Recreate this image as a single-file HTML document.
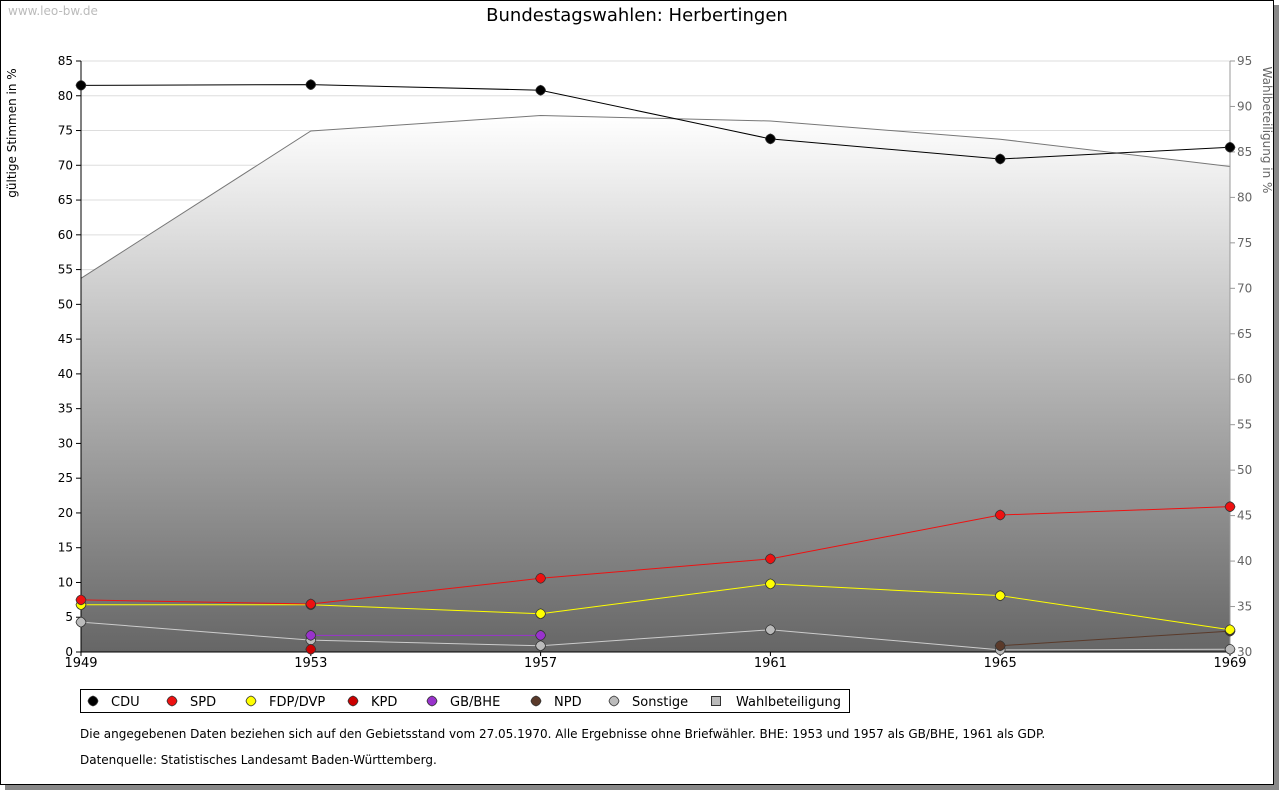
<!DOCTYPE html>
<html><head><meta charset="utf-8"><style>
body{margin:0;background:#fff;font-family:"DejaVu Sans","Liberation Sans",sans-serif;}
svg text{font-family:"DejaVu Sans","Liberation Sans",sans-serif;}
</style></head><body>
<svg id="chart" width="1280" height="791" xmlns="http://www.w3.org/2000/svg">
<defs><linearGradient id="g" x1="0" y1="0" x2="0" y2="1"><stop offset="0" stop-color="#ffffff"/><stop offset="1" stop-color="#666666"/></linearGradient></defs>
<rect x="5" y="5" width="1274" height="785" fill="#888"/>
<rect x="0.5" y="0.5" width="1273" height="784" fill="#fff" stroke="#000"/>
<text x="8" y="15" font-size="12" fill="#bbb">www.leo-bw.de</text>
<text x="637" y="21" font-size="18" text-anchor="middle">Bundestagswahlen: Herbertingen</text>
<text transform="translate(16,133) rotate(-90)" font-size="12" text-anchor="middle">gültige Stimmen in %</text>
<text transform="translate(1263,130) rotate(90)" font-size="12" text-anchor="middle" fill="#666">Wahlbeteiligung in %</text>
<g id="plot"></g>
<g id="legend"></g>
<text x="80" y="738" font-size="12">Die angegebenen Daten beziehen sich auf den Gebietsstand vom 27.05.1970. Alle Ergebnisse ohne Briefwähler. BHE: 1953 und 1957 als GB/BHE, 1961 als GDP.</text>
<text x="80" y="764" font-size="12">Datenquelle: Statistisches Landesamt Baden-Württemberg.</text>
</svg>
<script>
const years=["1949","1953","1957","1961","1965","1969"];
const cdu=[81.5,81.6,80.8,73.8,70.9,72.6];
const spd=[7.5,6.9,10.6,13.4,19.7,20.9];
const fdp=[6.8,6.8,5.5,9.8,8.1,3.2];
const kpd=[null,0.4,null,null,null,null];
const bhe=[null,2.4,2.4,null,null,null];
const npd=[null,null,null,null,0.9,3.0];
const sonst=[4.3,1.7,0.9,3.2,0.3,0.4];
const turnout=[71.1,87.3,89.0,88.4,86.4,83.4];
const yTicks=[0,5,10,15,20,25,30,35,40,45,50,55,60,65,70,75,80,85];
const y2Ticks=[30,35,40,45,50,55,60,65,70,75,80,85,90,95];
const NS="http://www.w3.org/2000/svg";
const X0=81,X1=1230,Y0=652,Y1=61;
const xs=i=>X0+i*(X1-X0)/(years.length-1);
const ys=v=>Y0-v*(Y0-Y1)/85;
const ys2=v=>Y0-(v-30)*(Y0-Y1)/65;
const plot=document.getElementById('plot');
function mk(t,a,p){const e=document.createElementNS(NS,t);for(const k in a)e.setAttribute(k,a[k]);(p||plot).appendChild(e);return e;}
yTicks.forEach(v=>{if(v>0){const l=mk('line',{x1:X0,x2:X1,y1:ys(v),y2:ys(v),stroke:'#ddd'});

}});
let d='M'+X0+','+Y0;turnout.forEach((v,i)=>d+=' L'+xs(i)+','+ys2(v));d+=' L'+X1+','+Y0+' Z';
const area=mk('path',{d:d,fill:'url(#g)'});


const tl=mk('polyline',{points:turnout.map((v,i)=>xs(i)+','+ys2(v)).join(' '),fill:'none',stroke:'#777'});


mk('line',{x1:X0,x2:X0,y1:Y1,y2:Y0,stroke:'#000'});
mk('line',{x1:X0,x2:X1,y1:Y0,y2:Y0,stroke:'#000'});
mk('line',{x1:X1,x2:X1,y1:Y1,y2:Y0,stroke:'#999'});
yTicks.forEach(v=>{mk('line',{x1:X0-5,x2:X0,y1:ys(v),y2:ys(v),stroke:'#000'});
const t=mk('text',{x:X0-8,y:ys(v)+4,'font-size':12,'text-anchor':'end'});t.textContent=v;

});
y2Ticks.forEach(v=>{mk('line',{x1:X1,x2:X1+5,y1:ys2(v),y2:ys2(v),stroke:'#999'});
const t=mk('text',{x:X1+7,y:ys2(v)+4,'font-size':12,fill:'#666'});t.textContent=v;

});
years.forEach((y,i)=>{mk('line',{x1:xs(i),x2:xs(i),y1:Y0,y2:Y0+4,stroke:'#000'});
const t=mk('text',{x:xs(i),y:Y0+15,'font-size':13,'text-anchor':'middle'});t.textContent=y;

});
function marker(cx,cy,c,p){return mk('path',{d:`M${cx},${cy-5} Q${cx+4},${cy-4} ${cx+5},${cy} Q${cx+4},${cy+4} ${cx},${cy+5} Q${cx-4},${cy+4} ${cx-5},${cy} Q${cx-4},${cy-4} ${cx},${cy-5} Z`,fill:c,stroke:'#333','stroke-width':0.8},p);}
function series(arr,c,lc,name){
 let seg=[];const segs=[];arr.forEach((v,i)=>{if(v==null){if(seg.length)segs.push(seg);seg=[];}else seg.push([xs(i),ys(v)]);});if(seg.length)segs.push(seg);
 segs.forEach(s=>{if(s.length>1){const l=mk('polyline',{points:s.map(p=>p.join(',')).join(' '),fill:'none',stroke:lc});
 
 }});
 arr.forEach((v,i)=>{if(v!=null){const m=marker(xs(i),ys(v),c);
 
 }});
}
series(sonst,'#bbb','#ccc','sonstige');
series(npd,'#5a3a2a','#5a3a2a','npd');
series(bhe,'#9933cc','#9933cc','gb-bhe');
series(kpd,'#cc0000','#cc0000','kpd');
series(fdp,'#ffff00','#ffff00','fdp');
series(spd,'#ee1111','#ee1111','spd');
series(cdu,'#000','#000','cdu');
const lg=document.getElementById('legend');
const lr=mk('rect',{x:80.5,y:689.5,width:769,height:23,fill:'#fff',stroke:'#000'},lg);


const items=[['CDU','#000',93],['SPD','#ee1111',172],['FDP/DVP','#ffff00',251],['KPD','#cc0000',353],['GB/BHE','#9933cc',432],['NPD','#5a3a2a',536],['Sonstige','#bbb',614]];
items.forEach(([n,c,x])=>{const m=marker(x,701,c,lg);


const t=mk('text',{x:x+18,y:706,'font-size':13},lg);t.textContent=n;

});
const sq=mk('rect',{x:711.5,y:696.5,width:9,height:9,fill:'#bbb',stroke:'#333'},lg);


const tw=mk('text',{x:736,y:706,'font-size':13},lg);tw.textContent='Wahlbeteiligung';


</script>
</body></html>
